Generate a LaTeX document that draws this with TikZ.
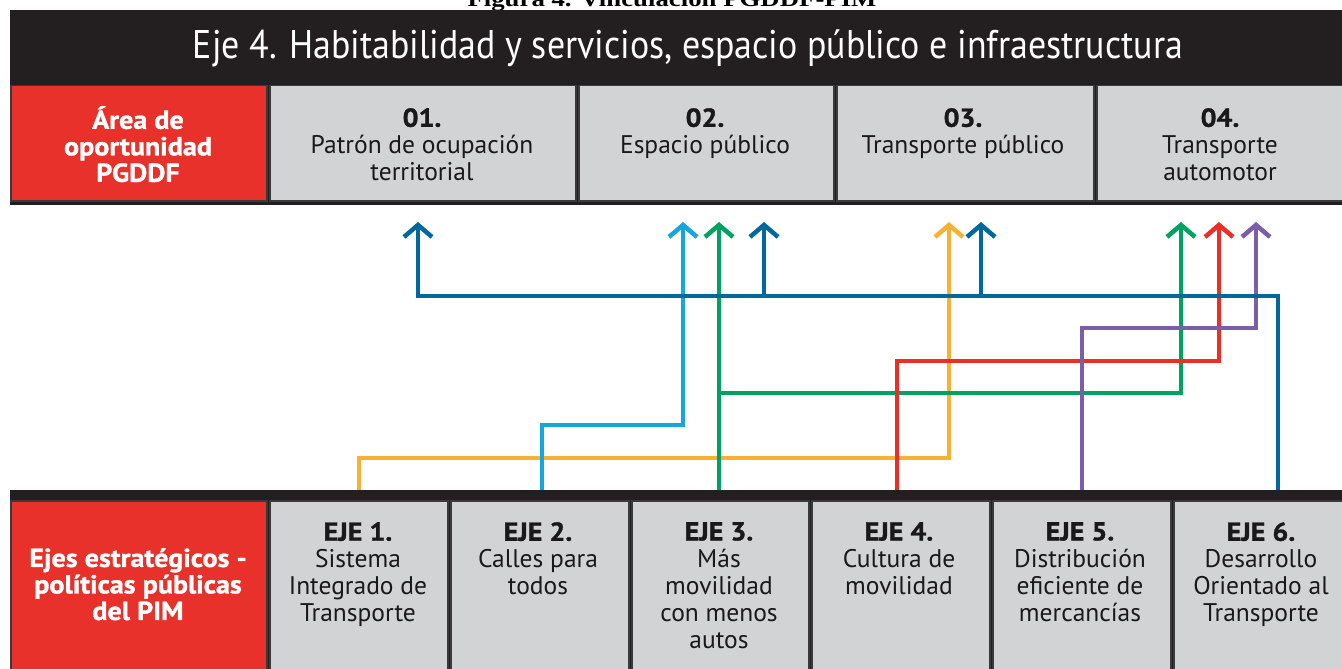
\documentclass[tikz,border=0pt]{standalone}
\usepackage{graphicx}
\usepackage{fontspec}
\setmainfont{PT Sans}
\newfontfamily\capfont{Liberation Serif}
\newfontfamily\heavy[FakeBold=1.2, FakeStretch=1.08]{PT Sans Bold}
\usetikzlibrary{arrows.meta}
\definecolor{hdrblack}{HTML}{231F20}
\definecolor{boxred}{HTML}{E8312A}
\definecolor{boxgray}{HTML}{D1D3D4}
\definecolor{sepgray}{HTML}{3A3A3C}
\definecolor{lnblue}{HTML}{00689D}
\definecolor{lnsky}{HTML}{14A6DC}
\definecolor{lngreen}{HTML}{00A261}
\definecolor{lnyellow}{HTML}{F8B133}
\definecolor{lnred}{HTML}{EC2F26}
\definecolor{lnpurple}{HTML}{7B5EA8}
\tikzset{
  cell/.style={draw=sepgray, line width=1.5pt, inner sep=0pt, anchor=north west, minimum height=#1},
  redcell/.style={cell=#1, fill=boxred},
  graycell/.style={cell=#1, fill=boxgray},
  conn/.style={line width=4.5pt, line join=miter, shorten <=10pt},
  tipped/.style={-{Straight Barb[length=12pt,width=28pt]}},
  lbl/.style={align=center, inner sep=0pt, anchor=north, text=black!90, font=\fontsize{25.5}{27}\selectfont},
  redlbl/.style={align=center, inner sep=0pt, anchor=north, text=white, font=\heavy\fontsize{26}{26.5}\selectfont}
}
\newcommand{\hd}[1]{{\heavy\fontsize{26}{27}\selectfont #1}}
\begin{document}
\begin{tikzpicture}[x=1pt,y=-1pt]
\useasboundingbox (0,0) rectangle (1342,669);
\fill[white] (0,0) rectangle (1342,669);
% caption (cut off at the top)
\node[anchor=base, inner sep=0pt, font=\capfont\bfseries\fontsize{22}{22}\selectfont] (cap) at (672,7)
  {\resizebox{409pt}{\height}{Figura 4. Vinculación PGDDF-PIM}};
% header
\fill[hdrblack] (10,10) rectangle (1350,205);
\node[anchor=base, inner sep=0pt, text=white, font=\fontsize{40}{40}\selectfont] (title) at (688,59)
  {\resizebox{990pt}{\height}{Eje 4. Habitabilidad y servicios, espacio público e infraestructura}};
% top row
\node[redcell=115pt, minimum width=256pt] (tr) at (10,85) {};
\node[graycell=115pt, minimum width=306pt] (t1) at (269,85) {};
\node[graycell=115pt, minimum width=255pt] (t2) at (578,85) {};
\node[graycell=115pt, minimum width=257pt] (t3) at (836,85) {};
\node[graycell=115pt, minimum width=260pt] (t4) at (1096,85) {};
\node[redlbl] (trl) at (138,106) {Área de\\oportunidad\\PGDDF};
\node[lbl] (t1l) at (422,108) {\hd{01.}\\Patrón de ocupación\\territorial};
\node[lbl] (t2l) at (705,108) {\hd{02.}\\Espacio público};
\node[lbl] (t3l) at (963,108) {\hd{03.}\\Transporte público};
\node[lbl] (t4l) at (1220,108) {\hd{04.}\\Transporte\\automotor};
% bottom row
\fill[hdrblack] (10,490) rectangle (1350,680);
\node[redcell=180pt, minimum width=256pt] (br) at (10,500) {};
\node[graycell=180pt, minimum width=178pt] (e1) at (269,500) {};
\node[graycell=180pt, minimum width=178pt] (e2) at (450,500) {};
\node[graycell=180pt, minimum width=177pt] (e3) at (631,500) {};
\node[graycell=180pt, minimum width=178pt] (e4) at (811,500) {};
\node[graycell=180pt, minimum width=178pt] (e5) at (992,500) {};
\node[graycell=180pt, minimum width=190pt] (e6) at (1173,500) {};
\node[redlbl] (brl) at (138,548) {Ejes estratégicos -\\políticas públicas\\del PIM};
\node[lbl] (e1l) at (358,522) {\hd{EJE 1.}\\Sistema\\Integrado de\\Transporte};
\node[lbl] (e2l) at (538,522) {\hd{EJE 2.}\\Calles para\\todos};
\node[lbl] (e3l) at (719,522) {\hd{EJE 3.}\\Más\\movilidad\\con menos\\autos};
\node[lbl] (e4l) at (899,522) {\hd{EJE 4.}\\Cultura de\\movilidad};
\node[lbl] (e5l) at (1080,522) {\hd{EJE 5.}\\Distribución\\eficiente de\\mercancías};
\node[lbl] (e6l) at (1261,522) {\hd{EJE 6.}\\Desarrollo\\Orientado al\\Transporte};
% connector end points
\coordinate (s1) at (359,500);
\coordinate (s2) at (542,500);
\coordinate (s3) at (719,500);
\coordinate (s4) at (897,500);
\coordinate (s5) at (1082,500);
\coordinate (s6) at (1278,500);
\coordinate (a1) at (418,222);
\coordinate (a2sky) at (683,222);
\coordinate (a2grn) at (719,222);
\coordinate (a2blu) at (764,222);
\coordinate (a3yel) at (949,222);
\coordinate (a3blu) at (981,222);
\coordinate (a4grn) at (1181,222);
\coordinate (a4red) at (1219,222);
\coordinate (a4pur) at (1256,222);
% connectors
\draw[conn, tipped, lnyellow] (s1) -- (359,458) -| (a3yel);
\draw[conn, tipped, lnsky] (s2) -- (542,425) -| (a2sky);
\draw[conn, tipped, lngreen] (s3) -- (a2grn);
\draw[conn, tipped, lngreen, shorten <=0pt] (719,393) -| (a4grn);
\draw[conn, tipped, lnred] (s4) -- (897,361) -| (a4red);
\draw[conn, tipped, lnpurple] (s5) -- (1082,328) -| (a4pur);
\draw[conn, tipped, lnblue] (s6) -- (1278,296) -| (a1);
\draw[conn, tipped, lnblue, shorten <=0pt] (764,296) -- (a2blu);
\draw[conn, tipped, lnblue, shorten <=0pt] (981,296) -- (a3blu);
\end{tikzpicture}
\end{document}
